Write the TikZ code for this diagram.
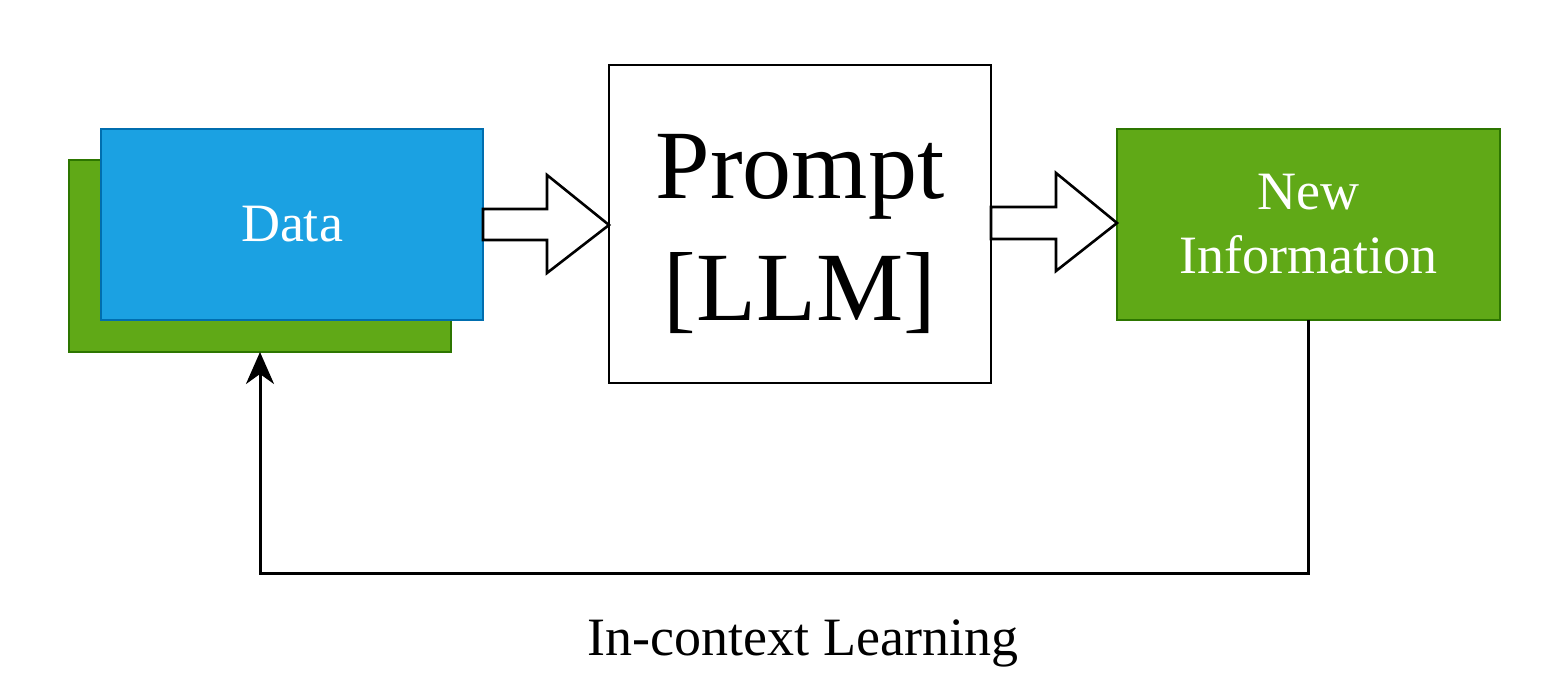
\documentclass[tikz,border=0pt]{standalone}
\usepackage{fontspec}
\setmainfont{Liberation Serif}
\usetikzlibrary{arrows.meta}
\definecolor{gfill}{HTML}{60A917}
\definecolor{gline}{HTML}{2D7600}
\definecolor{bfill}{HTML}{1BA1E2}
\definecolor{bline}{HTML}{006EAF}
\begin{document}
\begin{tikzpicture}[x=0.5pt,y=-0.5pt,
  greenbox/.style={draw=gline,fill=gfill,line width=1.3pt,text=white,font=\fontsize{27}{32}\selectfont,align=center,inner sep=0pt,outer sep=0pt},
  bluebox/.style={draw=bline,fill=bfill,line width=1.3pt,text=white,font=\fontsize{27}{32}\selectfont,align=center,inner sep=0pt,outer sep=0pt},
  promptbox/.style={draw=black,fill=white,line width=1.3pt,inner sep=0pt,outer sep=0pt},
  prompttext/.style={font=\fontsize{49}{61}\selectfont,align=center},
  blockarrow/.style={draw=black,fill=white,line width=1.3pt,line join=miter},
  feedback/.style={draw=black,line width=1.5pt,-{Stealth[length=16pt,width=14pt,inset=5pt]}}]
\useasboundingbox (0,0) rectangle (1546,699);
\node[greenbox,minimum width=191pt,minimum height=96pt,anchor=north west] (back) at (69,160) {};
\node[bluebox,minimum width=191pt,minimum height=95.5pt,anchor=north west] (data) at (101,129) {Data};
\node[promptbox,minimum width=191pt,minimum height=159pt,anchor=north west] (prompt) at (609,65) {};
\node[prompttext] (ptext) at ([yshift=-5pt]prompt.center) {Prompt\\{}[LLM]};
\node[greenbox,minimum width=191.5pt,minimum height=95.5pt,anchor=north west] (info) at (1117,129) {New\\Information};
\node[font=\fontsize{27}{32}\selectfont] (lbl) at (803,643) {In-context Learning};
% block arrows
\draw[blockarrow] (data.east |- 0,209) -- (547,209) -- (547,175) -- (prompt.west |- 0,225) -- (547,273) -- (547,240) -- (data.east |- 0,240) -- cycle;
\draw[blockarrow] (prompt.east |- 0,207) -- (1056,207) -- (1056,173) -- (info.west |- 0,223) -- (1056,271) -- (1056,239) -- (prompt.east |- 0,239) -- cycle;
% feedback
\coordinate (c1) at (1308,573);
\coordinate (c2) at (260,573);
\draw[feedback] (info.south -| c1) -- (c1) -- (c2) -- (back.south -| c2);
\end{tikzpicture}
\end{document}
